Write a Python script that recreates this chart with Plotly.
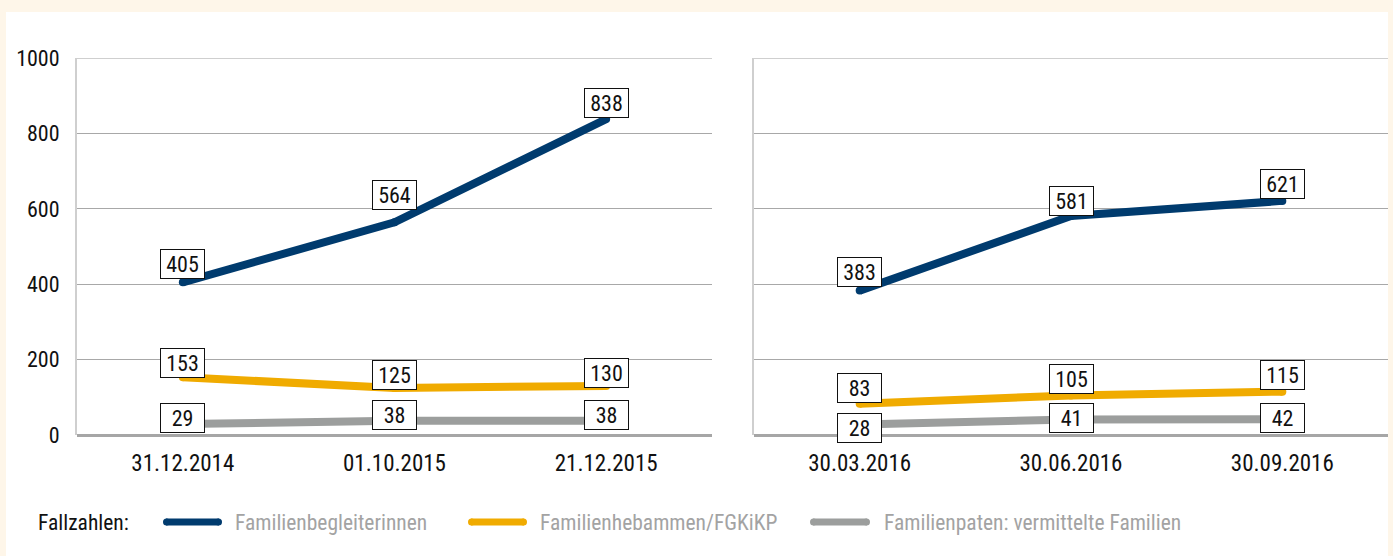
import plotly.graph_objects as go

# ---------------- data ----------------
dates_2015 = ["31.12.2014", "01.10.2015", "21.12.2015"]
dates_2016 = ["30.03.2016", "30.06.2016", "30.09.2016"]

series_names = ["Familienbegleiterinnen", "Familienhebammen/FGKiKP",
                "Familienpaten: vermittelte Familien"]
begleiterinnen_2015 = [405, 564, 838]
hebammen_2015 = [153, 125, 130]
paten_2015 = [29, 38, 38]
begleiterinnen_2016 = [383, 581, 621]
hebammen_2016 = [83, 105, 115]
paten_2016 = [28, 41, 42]

y_ticks = [0, 200, 400, 600, 800, 1000]
legend_title = "Fallzahlen:"

# ---------------- styling ----------------
colors = ["#003B6E", "#F0AB00", "#9C9E9D"]
label_yshift_2015 = [[18, 27, 16], [14, 13, 13], [6, 6, 6]]
label_yshift_2016 = [[19, 15, 17], [16, 16, 17], [-4, 2, 1]]
FONT = "Roboto Condensed, Liberation Sans Narrow, sans-serif"

W, H = 1393, 556
L_PX, R_PX, T_PX, B_PX = 77, 1388, 58, 435
pw = R_PX - L_PX
ph = B_PX - T_PX
dom1 = [0, (712 - L_PX) / pw]
dom2 = [(754 - L_PX) / pw, 1]

def px_x(p):
    return (p - L_PX) / pw

def px_y(p):
    return (B_PX - p) / ph

fig = go.Figure()

panels = [
    (dates_2015, [begleiterinnen_2015, hebammen_2015, paten_2015], "x", "y", label_yshift_2015),
    (dates_2016, [begleiterinnen_2016, hebammen_2016, paten_2016], "x2", "y2", label_yshift_2016),
]

annotations = []
for cats, vals_list, xa, ya, shifts in panels:
    for i, vals in enumerate(vals_list):
        fig.add_trace(go.Scatter(
            x=cats, y=vals, xaxis=xa, yaxis=ya, mode="lines+markers",
            line=dict(color=colors[i], width=8),
            marker=dict(color=colors[i], size=8, line=dict(width=0)),
            showlegend=False, hoverinfo="skip", cliponaxis=False,
        ))
        for j, (c, v) in enumerate(zip(cats, vals)):
            annotations.append(dict(
                x=c, y=v, xref=xa, yref=ya, text=str(v), showarrow=False,
                bgcolor="white", bordercolor="#111111", borderwidth=1, borderpad=1,
                width=41, height=26, yshift=shifts[i][j],
                font=dict(family=FONT, size=22, color="#111111"),
            ))

# legend (manual)
annotations.append(dict(
    x=px_x(36), y=px_y(522), xref="paper", yref="paper", xanchor="left", yanchor="middle",
    text=legend_title, showarrow=False, font=dict(family=FONT, size=21.5, color="#111111")))
legend_x = [(163, 222, 233), (468, 527, 538), (810, 870, 882)]
shapes = []
# white panel
shapes.append(dict(type="rect", xref="paper", yref="paper", layer="below",
                   x0=px_x(6), x1=px_x(1388), y0=px_y(12), y1=px_y(560),
                   fillcolor="white", line=dict(width=0)))
for i, (a, b, t) in enumerate(legend_x):
    shapes.append(dict(type="line", xref="paper", yref="paper",
                       x0=px_x(a + 3), x1=px_x(b - 3), y0=px_y(522), y1=px_y(522),
                       line=dict(color=colors[i], width=7)))
    shapes.append(dict(type="circle", xref="paper", yref="paper",
                       x0=px_x(a), x1=px_x(a + 7), y0=px_y(518.5), y1=px_y(525.5),
                       fillcolor=colors[i], line=dict(width=0)))
    shapes.append(dict(type="circle", xref="paper", yref="paper",
                       x0=px_x(b - 7), x1=px_x(b), y0=px_y(518.5), y1=px_y(525.5),
                       fillcolor=colors[i], line=dict(width=0)))
    annotations.append(dict(
        x=px_x(t), y=px_y(522), xref="paper", yref="paper", xanchor="left", yanchor="middle",
        text=series_names[i], showarrow=False, font=dict(family=FONT, size=21.5, color="#A3A3A3")))

# top border lines at 1000
for xa in ["x", "x2"]:
    shapes.append(dict(type="line", xref=f"{xa} domain", yref="y" if xa == "x" else "y2",
                       x0=0, x1=1, y0=1000, y1=1000, layer="above",
                       line=dict(color="#CFCFCF", width=2)))

xaxis_common = dict(type="category", range=[-0.5, 2.5], showgrid=False, zeroline=False,
                    showline=False, ticks="outside", ticklen=7, tickcolor="rgba(0,0,0,0)",
                    tickfont=dict(family=FONT, size=23, color="#111111"),
                    fixedrange=True)
yaxis_common = dict(range=[0, 1000], tickvals=y_ticks, showgrid=True, gridcolor="#A8A8A8",
                    gridwidth=1, zeroline=True, zerolinecolor="#A6A6A6", zerolinewidth=3,
                    showline=True, linecolor="#CFCFCF", linewidth=2,
                    tickfont=dict(family=FONT, size=22, color="#111111"), fixedrange=True)

fig.update_layout(
    width=W, height=H,
    margin=dict(l=L_PX, r=W - R_PX, t=T_PX, b=H - B_PX, autoexpand=False),
    paper_bgcolor="#FEF6E9", plot_bgcolor="white",
    xaxis=dict(domain=dom1, anchor="y", **xaxis_common),
    xaxis2=dict(domain=dom2, anchor="y2", **xaxis_common),
    yaxis=dict(anchor="x", ticks="outside", ticklen=11, tickcolor="rgba(0,0,0,0)", **yaxis_common),
    yaxis2=dict(anchor="x2", showticklabels=False, ticks="", **yaxis_common),
    shapes=shapes, annotations=annotations, showlegend=False,
)

fig.write_html(
    "out.html",
    config={"displayModeBar": False},
    post_script="document.body.style.margin='0';document.body.style.background='#FEF6E9';",
)
